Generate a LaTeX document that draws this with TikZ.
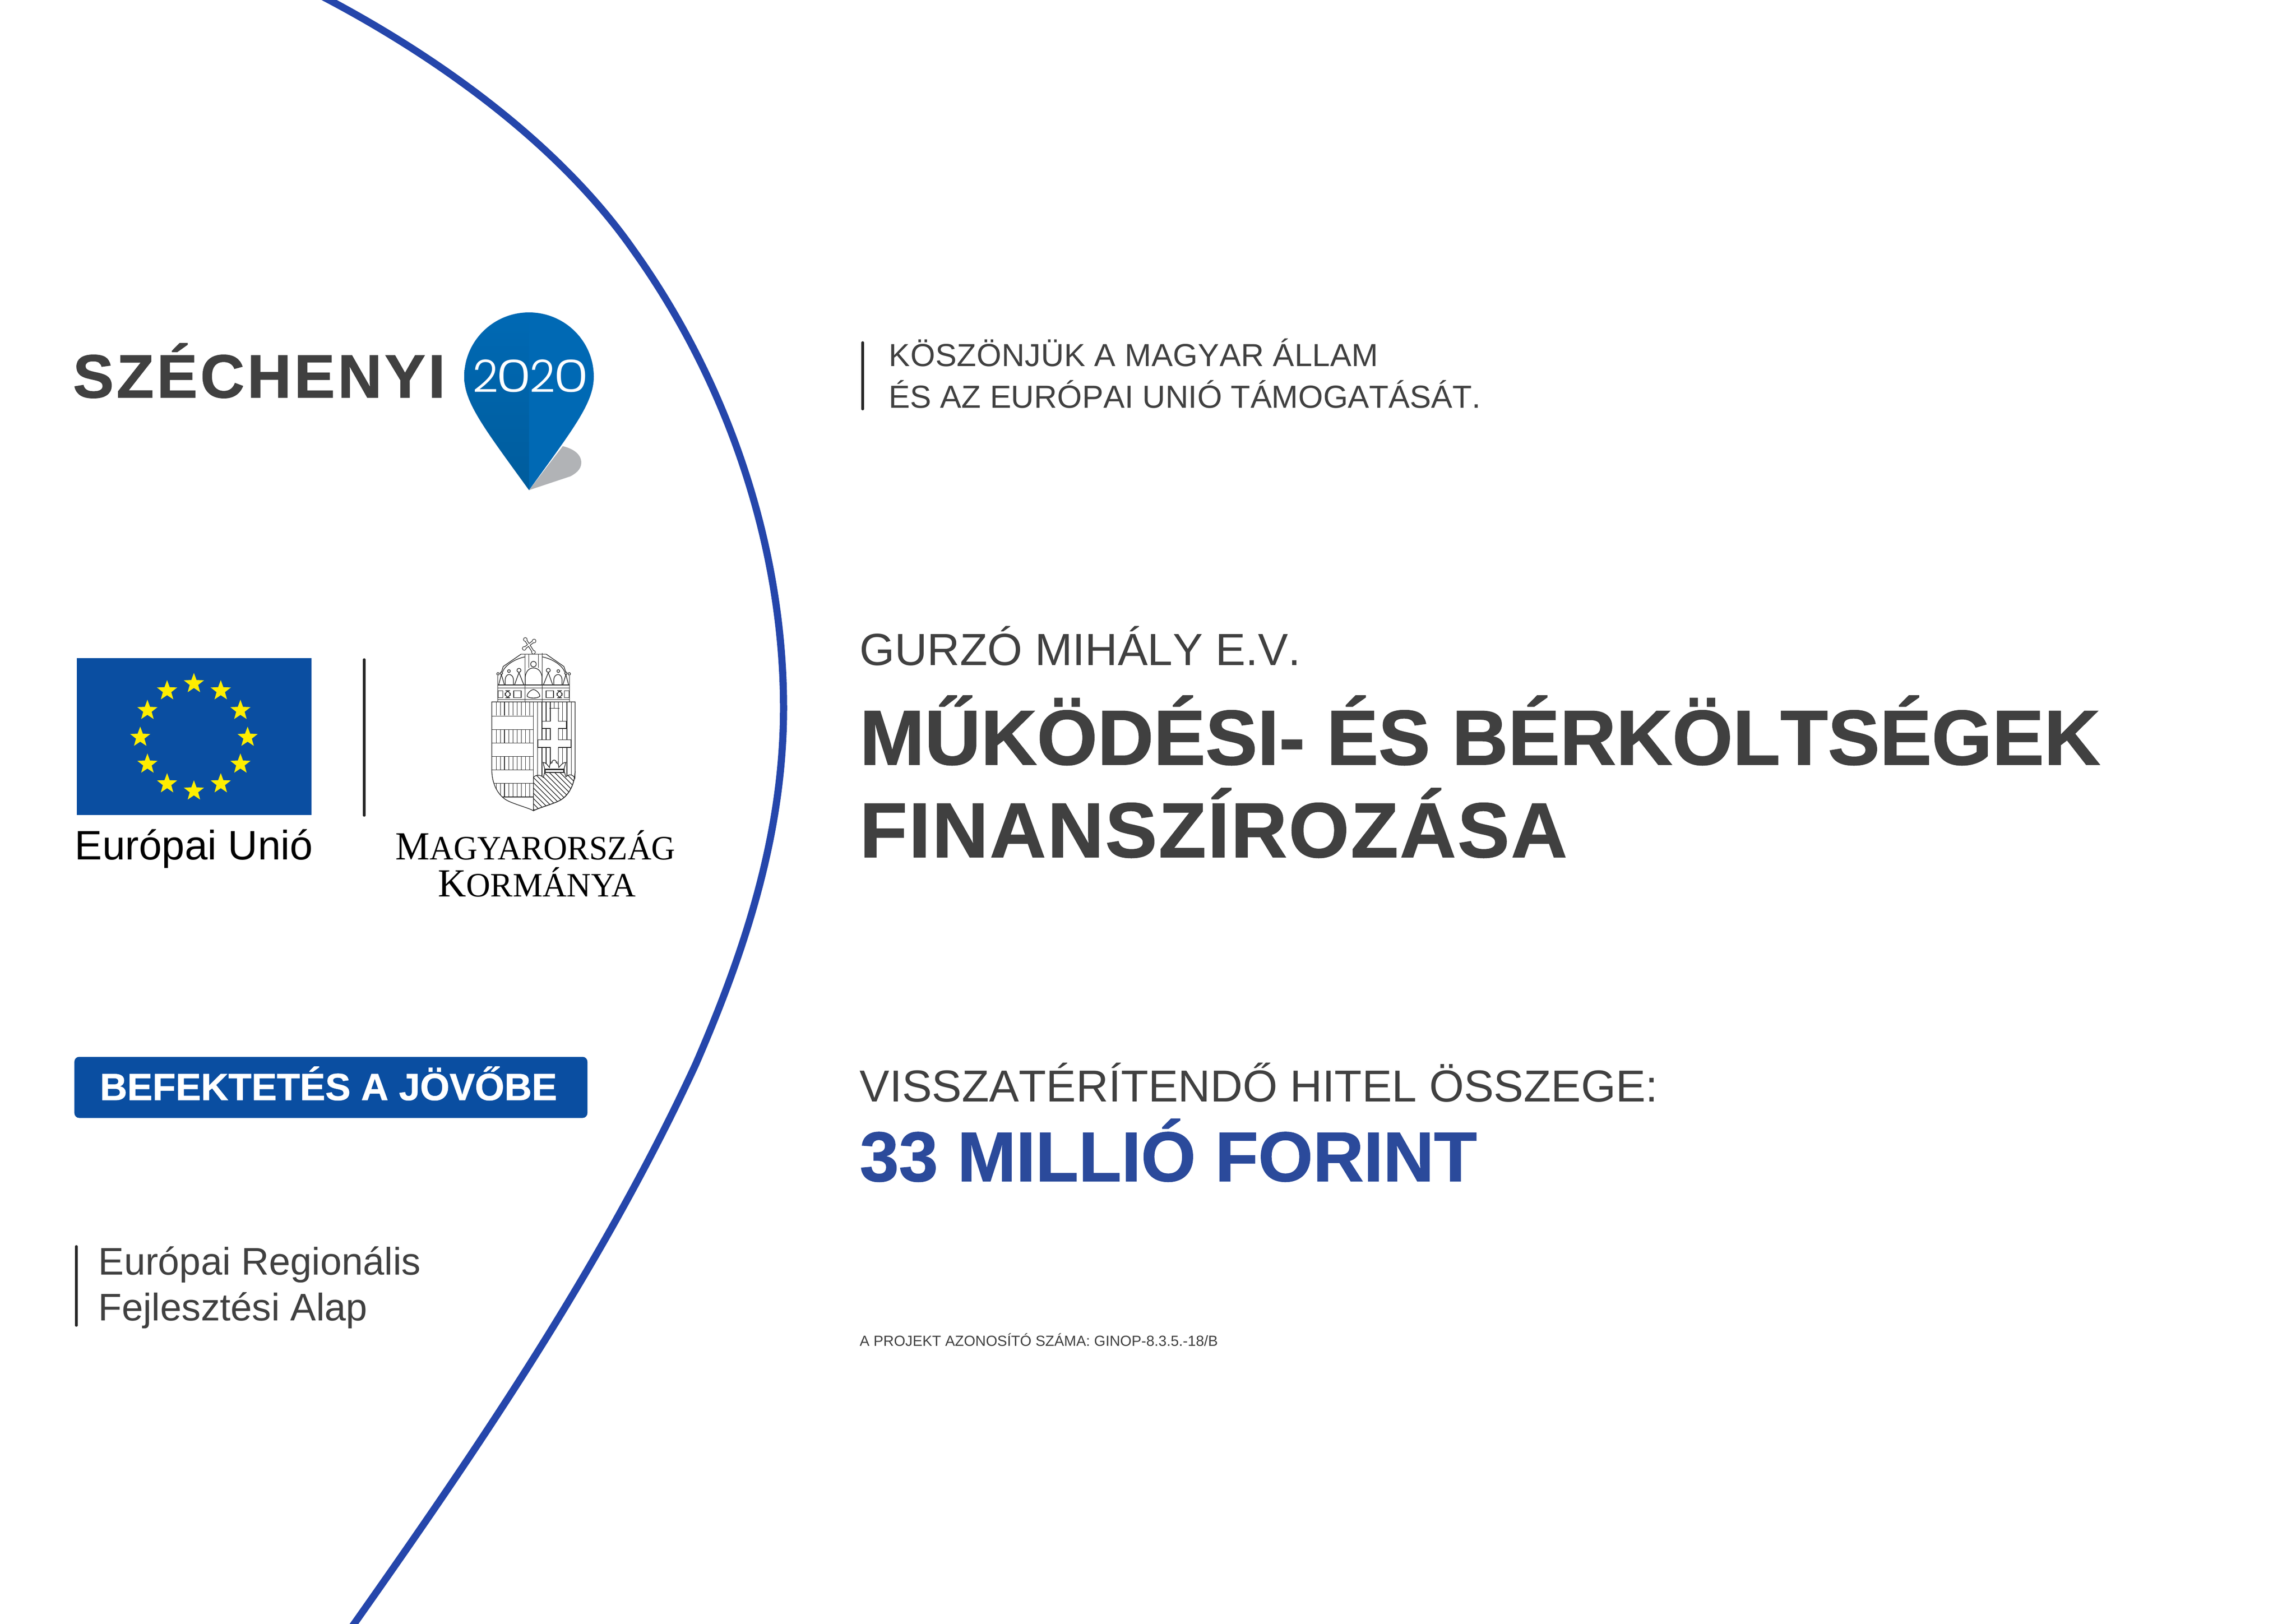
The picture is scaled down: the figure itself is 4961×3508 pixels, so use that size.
\documentclass[tikz,border=0pt]{standalone}
\usepackage{fontspec}
\setmainfont[Kerning=Off]{Liberation Sans}
\newfontfamily\koronafont{Liberation Serif}
\newfontfamily\szamfont{Poppins Light}
\usetikzlibrary{shapes.geometric}
\definecolor{inkgray}{HTML}{404040}
\definecolor{arcblue}{HTML}{2546AB}
\definecolor{banner}{HTML}{0A4EA1}
\definecolor{pinlight}{HTML}{0069B4}
\definecolor{pindark}{HTML}{005C9C}
\definecolor{pinshade}{HTML}{B1B3B6}
\definecolor{hitel}{HTML}{2B4A9B}
\definecolor{eustarcol}{HTML}{FFED00}
\tikzset{
  szoveg/.style={anchor=base west, inner sep=0pt, text=inkgray},
  sorveg/.style={line width=1.5pt, black!85, line cap=round},
  eustar/.style={star, star points=5, star point ratio=2.4, fill=eustarcol, inner sep=0pt, minimum size=46*0.2845pt},
  cimer/.style={line width=.4pt, black!85},
}
\newcommand{\pajzsjobb}{(728,950) .. controls (724,1050) and (676,1115) .. (626,1140) .. controls (576,1165) and (496,1185) .. (458,1205)}
\newcommand{\pajzsbal}{(458,1205) .. controls (420,1185) and (340,1165) .. (290,1140) .. controls (240,1115) and (192,1050) .. (188,950)}
\newcommand{\nulla}{\scalebox{1.3}[1]{0}}
\begin{document}
\begin{tikzpicture}[x=.01cm,y=-.01cm]
\useasboundingbox (0,0) rectangle (4961,3508);
\fill[white] (0,0) rectangle (4961,3508);
% ives vonal
\begin{scope}
  \clip (0,0) rectangle (4961,3508);
  \draw[arcblue, line width=4.4pt] (665,-24) .. controls (920,105) and (1201,300) .. (1369,541) .. controls (1572,825) and (1693,1180) .. (1693,1530) .. controls (1693,1800) and (1610,2054) .. (1503,2300) .. controls (1301,2737) and (1027,3138) .. (750,3530);
\end{scope}
% szechenyi logo
\node[szoveg, font=\bfseries\fontsize{37.6}{40}\selectfont\addfontfeature{LetterSpace=4.5,FakeBold=1}] (szechenyi) at (157,859) {SZÉCHENYI};
\fill[pinshade] (1216,964) .. controls (1240,970) and (1256,982) .. (1256,1000) .. controls (1256,1015) and (1242,1024) .. (1233,1029) -- (1143,1059) -- cycle;
\fill[pinlight] (1143,675) .. controls (1220,675) and (1283,737) .. (1283,814) .. controls (1283,870) and (1240,925) .. (1143,1059) -- cycle;
\shade[top color=pinlight, bottom color=pindark] (1143,675) .. controls (1066,675) and (1003,737) .. (1003,814) .. controls (1003,870) and (1046,925) .. (1143,1059) -- cycle;
\node[inner sep=0pt, text=white, font=\szamfont\fontsize{27.5}{30}\selectfont] (ev) at (1147,812) {2\kern-.05em\nulla\kern-.05em 2\kern-.05em\nulla};
% eu zaszlo
\fill[banner] (166,1422) rectangle (673,1761);
\begin{scope}[shift={(419,1593)}]
  \foreach \a in {0,30,...,330} {
    \node[eustar] (star\a) at (\a:116) {};
  }
\end{scope}
\node[szoveg, text=black, font=\fontsize{25.3}{28}\selectfont] (eu) at (161,1857) {Európai Unió};
\coordinate (elvA) at (787,1425); \coordinate (elvB) at (787,1762);
\draw[sorveg] (elvA) -- (elvB);
% cimer
\begin{scope}[shift={(1000,1350)}, scale=1/3, cimer]
  % kereszt
  \foreach \p/\q in {405/95, 462/105, 398/153, 458/178} { \fill (\p,\q) circle (14); }
  \draw[line width=1.6pt] (405,95) -- (458,178) (462,105) -- (398,153);
  \foreach \p/\q in {405/95, 462/105, 398/153, 458/178} { \fill[white] (\p,\q) circle (10); }
  \draw[line width=.8pt, white] (405,95) -- (458,178) (462,105) -- (398,153);
  % korona
  \draw (378,190) -- (540,190);
  \draw (378,190) -- (262,270) -- (250,308) (540,190) -- (655,270) -- (668,308);
  \draw (258,305) .. controls (275,260) and (340,220) .. (403,208) (660,305) .. controls (643,260) and (578,220) .. (515,208);
  \draw (403,190) -- (403,500) (427,190) -- (427,280) (490,190) -- (490,280) (515,183) -- (515,500);
  \draw (458,255) circle (18);
  \draw (405,390) -- (405,335) .. controls (410,300) and (430,280) .. (458,280) .. controls (486,280) and (508,300) .. (513,335) -- (513,390);
  \foreach \t in {0,1} {
    \begin{scope}[shift={(918*\t,0)}, xscale=1-2*\t]
      \draw (228,318) circle (8) (250,314) circle (8) (299,300) circle (9) (364,295) circle (13);
      \draw (232,390) -- (250,323) -- (270,390);
      \draw (275,390) -- (275,355) .. controls (275,335) and (288,322) .. (300,322) .. controls (314,322) and (328,335) .. (328,355) -- (328,390);
      \draw (335,390) -- (364,310) -- (396,390);
      \draw (228,427) rectangle (260,473);
      \draw[rounded corners=3pt] (274,427) rectangle (308,473);
      \draw (330,427) rectangle (378,473);
      \draw (227,500) -- (227,330);
    \end{scope}
  }
  \draw (227,390) -- (692,390) (227,410) -- (692,410) (227,485) -- (692,485);
  \draw (418,465) .. controls (412,450) and (440,420) .. (458,420) .. controls (476,420) and (504,450) .. (498,465) .. controls (480,478) and (436,478) .. (418,465) -- cycle;
  % pajzs bal
  \begin{scope}
    \clip (188,500) -- (458,500) -- \pajzsbal -- cycle;
    \foreach \y in {500,680,854,1028} {
      \foreach \x in {217,245,270,298,325,352,379,406,433} {
        \draw (\x,\y) -- (\x,\y+88);
      }
    }
    \foreach \y in {592,680,767,854,940,1028,1116} { \draw (188,\y) -- (458,\y); }
  \end{scope}
  % pajzs jobb
  \begin{scope}
    \clip (458,500) -- (728,500) -- \pajzsjobb -- cycle;
    \foreach \x in {485,513,540,567,592,620,646,675,703} { \draw (\x,500) -- (\x,1000); }
  \end{scope}
  \filldraw[fill=white] (567,542) -- (620,542) -- (620,625) -- (672,625) -- (672,672) -- (620,672) -- (620,745) -- (700,745) -- (700,795) -- (620,795) -- (620,890) -- (567,890) -- (567,795) -- (487,795) -- (487,745) -- (567,745) -- (567,672) -- (513,672) -- (513,625) -- (567,625) -- cycle;
  \draw (561,542) -- (626,542);
  % kis korona
  \filldraw[fill=white] (532,938) -- (520,892) .. controls (540,890) and (552,915) .. (562,925) .. controls (562,905) and (568,895) .. (578,895) .. controls (578,870) and (606,870) .. (606,895) .. controls (616,895) and (622,905) .. (622,925) .. controls (632,915) and (648,890) .. (668,892) -- (655,938) -- cycle;
  \filldraw[fill=white, line width=1pt] (532,938) rectangle (655,958);
  % halmok
  \filldraw[fill=white] (458,990) .. controls (470,970) and (505,970) .. (522,990) -- (530,958) -- (660,958) -- (668,985) .. controls (690,965) and (715,970) .. (726,995) -- (728,950) -- \pajzsjobb -- cycle;
  \begin{scope}
    \clip (458,990) .. controls (470,970) and (505,970) .. (522,990) -- (530,958) -- (660,958) -- (668,985) .. controls (690,965) and (715,970) .. (726,995) -- (728,950) -- \pajzsjobb -- cycle;
    \foreach \d in {180,214,...,720} { \draw (\d,950) -- (\d+300,1250); }
  \end{scope}
  % keret
  \draw (188,500) -- (728,500) -- \pajzsjobb -- \pajzsbal -- cycle;
  \draw (458,500) -- (458,1205);
\end{scope}
% magyarorszag korm.
\node[szoveg, text=black, font=\koronafont\fontsize{21}{24}\selectfont] (magy) at (854,1857) {\scalebox{.965}[1]{{\fontsize{24.5}{24}\selectfont M}AGYARORSZÁG}};
\node[szoveg, text=black, font=\koronafont\fontsize{21}{24}\selectfont] (korm) at (946,1937) {\scalebox{.98}[1]{{\fontsize{24.5}{24}\selectfont K}ORMÁNYA}};
% befektetes
\node[fill=banner, rounded corners=3pt, minimum width=1108*0.2845pt, minimum height=132*0.2845pt, inner sep=0pt] (sav) at (715,2349.5) {};
\node[szoveg, text=white, font=\bfseries\fontsize{23.3}{25}\selectfont\addfontfeature{FakeBold=1}] (befekt) at (215,2377) {BEFEKTETÉS A JÖVŐBE};
% alap
\coordinate (alapA) at (165,2693); \coordinate (alapB) at (165,2864);
\draw[sorveg] (alapA) -- (alapB);
\node[szoveg, font=\fontsize{23.6}{26}\selectfont] (alap1) at (212,2754) {Európai Regionális};
\node[szoveg, font=\fontsize{23.6}{26}\selectfont] (alap2) at (212,2853) {Fejlesztési Alap};
% jobb oldal
\coordinate (kosA) at (1864,740); \coordinate (kosB) at (1864,884);
\draw[sorveg] (kosA) -- (kosB);
\node[szoveg, font=\fontsize{19.6}{22}\selectfont\addfontfeature{LetterSpace=.6}] (kos1) at (1920,791) {KÖSZÖNJÜK A MAGYAR ÁLLAM};
\node[szoveg, font=\fontsize{19.6}{22}\selectfont] (kos2) at (1920,881) {ÉS AZ EURÓPAI UNIÓ TÁMOGATÁSÁT.};
\node[szoveg, font=\fontsize{27.7}{30}\selectfont] (nev) at (1857,1437) {GURZÓ MIHÁLY E.V.};
\node[szoveg, font=\bfseries\fontsize{47.8}{50}\selectfont\addfontfeature{FakeBold=1}] (cim1) at (1857,1652) {MŰKÖDÉSI- ÉS BÉRKÖLTSÉGEK};
\node[szoveg, font=\bfseries\fontsize{47.8}{50}\selectfont\addfontfeature{FakeBold=1,LetterSpace=2}] (cim2) at (1857,1852) {FINANSZÍROZÁSA};
\node[szoveg, font=\fontsize{27.5}{30}\selectfont] (vissza) at (1857,2380) {VISSZATÉRÍTENDŐ HITEL ÖSSZEGE:};
\node[szoveg, text=hitel, font=\bfseries\fontsize{43.2}{46}\selectfont\addfontfeature{FakeBold=1}] (milla) at (1857,2552) {33 MILLIÓ FORINT};
\node[szoveg, font=\fontsize{9}{11}\selectfont] (azon) at (1857,2908) {A PROJEKT AZONOSÍTÓ SZÁMA: GINOP-8.3.5.-18/B};
\end{tikzpicture}
\end{document}
